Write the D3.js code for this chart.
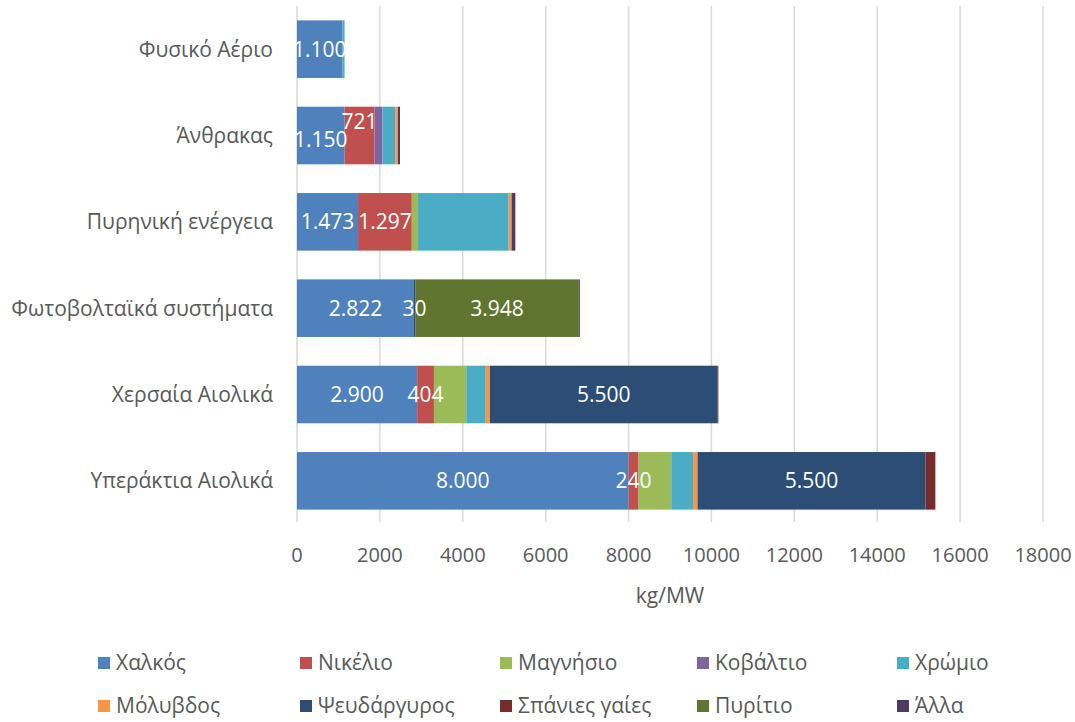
<!DOCTYPE html>
<html><head><meta charset="utf-8">
<script src="https://cdn.jsdelivr.net/npm/d3@7"></script>
<style>body{margin:0;background:#fff;} svg{display:block;font-family:"Open Sans",sans-serif;}</style>
</head><body>
<svg id="c" width="1075" height="722"></svg>
<script>
const categories = ["Φυσικό Αέριο","Άνθρακας","Πυρηνική ενέργεια","Φωτοβολταϊκά συστήματα","Χερσαία Αιολικά","Υπεράκτια Αιολικά"];
const seriesNames = ["Χαλκός","Νικέλιο","Μαγνήσιο","Κοβάλτιο","Χρώμιο","Μόλυβδος","Ψευδάργυρος","Σπάνιες γαίες","Πυρίτιο","Άλλα"];
const colors = ["#4F81BD","#C0504D","#9BBB59","#8064A2","#4BACC6","#F79646","#2C4D75","#772C2A","#5F7530","#4D3B62"];
const copper    = [1100, 1150, 1473, 2822, 2900, 8000];
const nickel    = [0, 721, 1297, 0, 404, 240];
const manganese = [0, 0, 148, 0, 780, 790];
const cobalt    = [0, 190, 0, 0, 0, 0];
const chromium  = [48, 308, 2190, 0, 470, 525];
const molybdenum= [0, 66, 70, 0, 99, 109];
const zinc      = [0, 0, 0, 30, 5500, 5500];
const rareEarth = [0, 0, 0, 0, 14, 239];
const silicon   = [0, 0, 0, 3948, 0, 0];
const other     = [0, 50, 90, 25, 0, 0];
const seriesValues = [copper,nickel,manganese,cobalt,chromium,molybdenum,zinc,rareEarth,silicon,other];
const labelledSeries = ["Χαλκός","Νικέλιο","Ψευδάργυρος","Πυρίτιο"];
const xTicks = [0,2000,4000,6000,8000,10000,12000,14000,16000,18000];
const axisTitle = "kg/MW";

const svg = d3.select("#c");
const x = d3.scaleLinear().domain([0,18000]).range([297,1043]);
const y = d3.scaleBand().domain(categories).range([6,524]).paddingInner(0.333).paddingOuter(0.1665);

const rows = categories.map((c,i)=>{const o={cat:c}; seriesNames.forEach((s,j)=>o[s]=seriesValues[j][i]); return o;});
const stack = d3.stack().keys(seriesNames)(rows);

// gridlines
svg.append("g").selectAll("line").data(xTicks).join("line")
  .attr("x1",d=>x(d)).attr("x2",d=>x(d)).attr("y1",6).attr("y2",522)
  .attr("stroke","#d9d9d9").attr("stroke-width",1.5);

// bars
const gs = svg.append("g").selectAll("g").data(stack).join("g").attr("fill",(d,i)=>colors[i]);
gs.selectAll("rect").data(d=>d.filter(p=>p[1]-p[0]>0)).join("rect")
  .attr("x",d=>x(d[0])).attr("width",d=>x(d[1])-x(d[0]))
  .attr("y",d=>y(d.data.cat)).attr("height",y.bandwidth());

// data labels
const loc = d3.formatLocale({decimal:",",thousands:".",grouping:[3],currency:["","€"]});
const fmt = loc.format(",d");
stack.forEach((s,i)=>{
  if(!labelledSeries.includes(s.key)) return;
  s.forEach(p=>{
    const v=p[1]-p[0]; if(v<=0) return;
    let cy = y(p.data.cat)+y.bandwidth()/2;
    if(p.data.cat==="Άνθρακας") cy += (s.key==="Νικέλιο"? -14 : 4);
    svg.append("text").attr("x",(x(p[0])+x(p[1]))/2).attr("y",cy)
      .attr("dy","0.35em").attr("text-anchor","middle").attr("fill","#fff")
      .attr("font-size",21).text(fmt(v));
  });
});

// x axis labels
svg.append("g").selectAll("text").data(xTicks).join("text")
  .attr("x",d=>x(d)).attr("y",555).attr("dy","0.35em").attr("text-anchor","middle")
  .attr("fill","#595959").attr("font-size",20).text(d=>d);
svg.append("text").attr("x",670).attr("y",596).attr("dy","0.35em").attr("text-anchor","middle")
  .attr("fill","#595959").attr("font-size",21).text(axisTitle);

// category labels
svg.append("g").selectAll("text").data(categories).join("text")
  .attr("x",273).attr("y",d=>y(d)+y.bandwidth()/2).attr("dy","0.35em").attr("text-anchor","end")
  .attr("fill","#595959").attr("font-size",21).text(d=>d);

// legend
const legX = [98,300,500,697,897];
const legY = [663,706];
const lg = svg.append("g").selectAll("g").data(seriesNames).join("g")
  .attr("transform",(d,i)=>`translate(${legX[i%5]},${legY[Math.floor(i/5)]})`);
lg.append("rect").attr("x",0).attr("y",-6).attr("width",12).attr("height",12).attr("fill",(d,i)=>colors[i]);
lg.append("text").attr("x",18).attr("y",0).attr("dy","0.35em").attr("fill","#595959").attr("font-size",21).text(d=>d);
</script>
</body></html>
